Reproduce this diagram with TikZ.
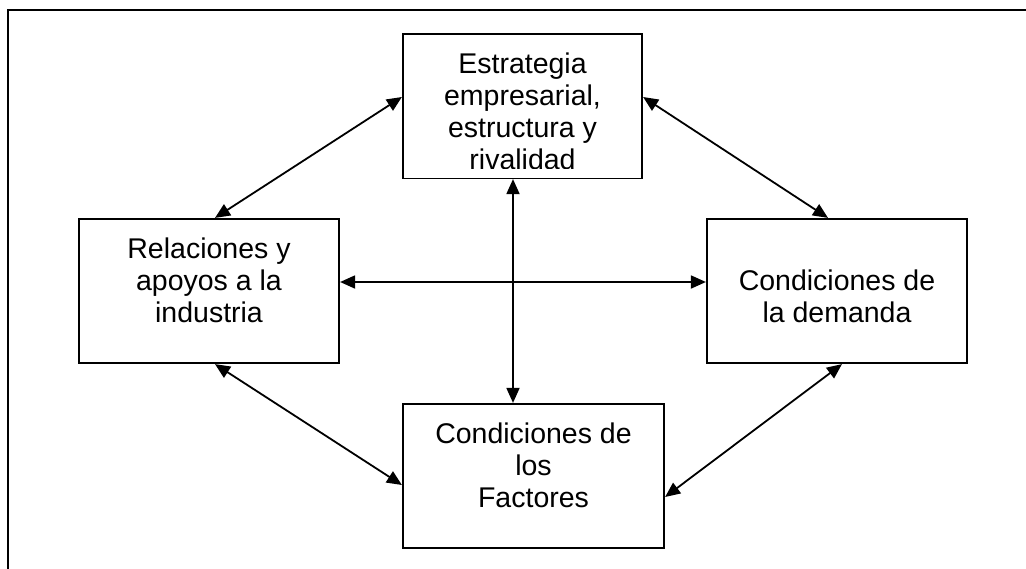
\documentclass[tikz,border=0pt]{standalone}
\usepackage{fontspec}
\setmainfont{Liberation Sans}
\usetikzlibrary{arrows.meta}
\newcommand{\boxtext}[2]{\vbox to 144pt{\hsize=#1\parindent=0pt\centering\vspace*{17pt}\strut #2\par\vss}}
\begin{document}
\begin{tikzpicture}[x=1pt,y=-1pt,
    box/.style={draw,line width=2.2pt,inner sep=0pt,font=\fontsize{28.5}{32}\selectfont},
    link/.style={{Triangle[length=15pt,width=13pt]}-{Triangle[length=15pt,width=13pt]},line width=1.8pt}]
  \useasboundingbox (0,0) rectangle (1026,568);
  \draw[line width=2.8pt] (1030,10) -- (8,10) -- (8,572);
  \draw
    (522.5,106) node[box] (estrategia) {\boxtext{239pt}{Estrategia\\empresarial,\\estructura y\\rivalidad}}
    (209,291) node[box] (relaciones) {\boxtext{260pt}{Relaciones y\\apoyos a la\\industria}}
    (837,291) node[box] (demanda) {\boxtext{260pt}{\mbox{}\\Condiciones de\\la demanda}}
    (533.5,476) node[box] (factores) {\boxtext{261pt}{Condiciones de\\los\\Factores}};
  \fill[white] ([xshift=2pt,yshift=1.6pt]estrategia.south west) rectangle ([xshift=-2pt,yshift=10pt]estrategia.south east);
  \begin{scope}[link]
    \draw ([yshift=9pt]estrategia.west) to ([xshift=6pt]relaciones.north);
    \draw ([yshift=9pt]estrategia.east) to ([xshift=-9pt]demanda.north);
    \draw ([yshift=9pt]relaciones.east) to ([yshift=9pt]demanda.west);
    \draw ([xshift=-9.5pt]estrategia.south) to ([xshift=-9.5pt]estrategia.south |- factores.north);
    \draw ([xshift=6pt]relaciones.south) to ([yshift=-9pt]factores.west);
    \draw ([xshift=5pt]demanda.south) to ([yshift=-21pt]factores.east);
  \end{scope}
\end{tikzpicture}
\end{document}
